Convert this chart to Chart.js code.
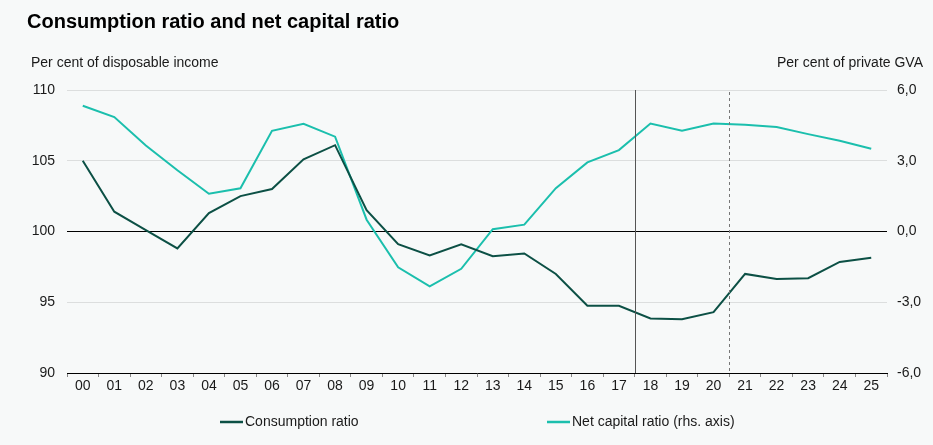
<!DOCTYPE html>
<html>
<head>
<meta charset="utf-8">
<script src="https://cdn.jsdelivr.net/npm/chart.js@4/dist/chart.umd.min.js"></script>
<style>
  html, body { margin: 0; padding: 0; background: #f7f9f9; }
  #wrap { width: 933px; height: 445px; position: relative; }
</style>
</head>
<body>
<div id="wrap"><canvas id="chart" width="933" height="445"></canvas></div>
<script>
const years = ["00","01","02","03","04","05","06","07","08","09","10","11","12",
  "13","14","15","16","17","18","19","20","21","22","23","24","25"];

// per cent of disposable income (left axis)
const consumptionRatio = [105.0, 101.4, 100.1, 98.8, 101.3, 102.5, 103.0, 105.1, 106.1, 101.5,
  99.1, 98.3, 99.1, 98.25, 98.45, 97.0, 94.75, 94.75, 93.85, 93.8, 94.3, 97.0, 96.65, 96.7, 97.85, 98.15];

// per cent of private GVA (right axis)
const netCapitalRatio = [5.33, 4.85, 3.65, 2.6, 1.6, 1.83, 4.27, 4.57, 4.02, 0.5,
  -1.52, -2.33, -1.58, 0.1, 0.29, 1.84, 2.93, 3.45, 4.58, 4.27, 4.58, 4.53, 4.43, 4.13, 3.85, 3.51];

const leftTicks = [90, 95, 100, 105, 110];
const rightTicks = [-6, -3, 0, 3, 6];

// vertical markers sit on the boundary after these categories
const solidMarkerAfter = "17";
const dashedMarkerAfter = "20";

const DARK = "#0c5045";
const TEAL = "#1bbfad";
const FONT = "'Liberation Sans', Arial, sans-serif";

const fmtComma = (v) => v.toFixed(1).replace(".", ",");

const decorations = {
  id: "decorations",
  beforeDraw(chart) {
    const { ctx } = chart;
    ctx.save();
    ctx.fillStyle = "#f7f9f9";
    ctx.fillRect(0, 0, chart.width, chart.height);
    ctx.restore();
  },
  afterDatasetsDraw(chart) {
    const { ctx, chartArea: { top, bottom }, scales: { x } } = chart;
    const boundary = (label) => {
      const i = years.indexOf(label);
      return Math.round((x.getPixelForValue(i) + x.getPixelForValue(i + 1)) / 2) + 0.5;
    };
    ctx.save();
    ctx.lineWidth = 1;
    ctx.strokeStyle = "#555";
    ctx.beginPath();
    const xs = boundary(solidMarkerAfter);
    ctx.moveTo(xs, top);
    ctx.lineTo(xs, bottom);
    ctx.stroke();

    ctx.strokeStyle = "#777";
    ctx.setLineDash([3, 3]);
    ctx.beginPath();
    const xd = boundary(dashedMarkerAfter);
    ctx.moveTo(xd, top + 2);
    ctx.lineTo(xd, bottom);
    ctx.stroke();
    ctx.restore();
  },
  afterDraw(chart) {
    const { ctx } = chart;
    ctx.save();
    ctx.fillStyle = "#000";
    ctx.textBaseline = "middle";
    ctx.font = "bold 20px " + FONT;
    ctx.fillText("Consumption ratio and net capital ratio", 27, 22);

    ctx.fillStyle = "#1a1a1a";
    ctx.font = "14px " + FONT;
    ctx.fillText("Per cent of disposable income", 31, 63);
    ctx.textAlign = "right";
    ctx.fillText("Per cent of private GVA", 923, 63);

    // legend
    const items = [
      { x: 220, ds: chart.data.datasets[0] },
      { x: 547, ds: chart.data.datasets[1] },
    ];
    ctx.textAlign = "left";
    items.forEach((it) => {
      ctx.strokeStyle = it.ds.borderColor;
      ctx.lineWidth = 2.5;
      ctx.beginPath();
      ctx.moveTo(it.x, 422);
      ctx.lineTo(it.x + 23, 422);
      ctx.stroke();
      ctx.fillStyle = "#1a1a1a";
      ctx.fillText(it.ds.label, it.x + 25, 422);
    });
    ctx.restore();
  },
};

new Chart(document.getElementById("chart"), {
  type: "line",
  data: {
    labels: years,
    datasets: [
      {
        label: "Consumption ratio",
        data: consumptionRatio,
        borderColor: DARK,
        backgroundColor: DARK,
        borderWidth: 2,
        pointRadius: 0,
        tension: 0,
        yAxisID: "y",
      },
      {
        label: "Net capital ratio (rhs. axis)",
        data: netCapitalRatio,
        borderColor: TEAL,
        backgroundColor: TEAL,
        borderWidth: 2,
        pointRadius: 0,
        tension: 0,
        yAxisID: "y1",
      },
    ],
  },
  options: {
    responsive: false,
    animation: false,
    devicePixelRatio: 1,
    layout: { padding: { top: 90, bottom: 42, left: 0, right: 0 } },
    plugins: {
      legend: { display: false },
      tooltip: { enabled: false },
    },
    scales: {
      x: {
        offset: true,
        afterFit: (s) => { s.height = 30; },
        grid: {
          offset: true,
          drawOnChartArea: false,
          drawTicks: true,
          tickLength: 4,
          color: "#888",
        },
        border: { display: true, color: "#000", width: 1 },
        ticks: {
          color: "#1a1a1a",
          padding: 1,
          maxRotation: 0,
          autoSkip: false,
          font: { family: FONT, size: 14 },
        },
      },
      y: {
        position: "left",
        min: leftTicks[0],
        max: leftTicks[leftTicks.length - 1],
        afterFit: (s) => { s.width = 67; },
        afterBuildTicks: (s) => { s.ticks = leftTicks.map((v) => ({ value: v })); },
        grid: {
          drawTicks: false,
          lineWidth: 1,
          color: (c) => (c.tick && c.tick.value === 100 ? "#000" : "#dcdede"),
        },
        border: { display: false },
        ticks: {
          color: "#1a1a1a",
          padding: 12,
          font: { family: FONT, size: 14 },
        },
      },
      y1: {
        position: "right",
        min: rightTicks[0],
        max: rightTicks[rightTicks.length - 1],
        afterFit: (s) => { s.width = 46; },
        afterBuildTicks: (s) => { s.ticks = rightTicks.map((v) => ({ value: v })); },
        grid: { drawOnChartArea: false, drawTicks: false },
        border: { display: false },
        ticks: {
          color: "#1a1a1a",
          padding: 10,
          font: { family: FONT, size: 14 },
          callback: (v) => fmtComma(v),
        },
      },
    },
  },
  plugins: [decorations],
});
</script>
</body>
</html>
